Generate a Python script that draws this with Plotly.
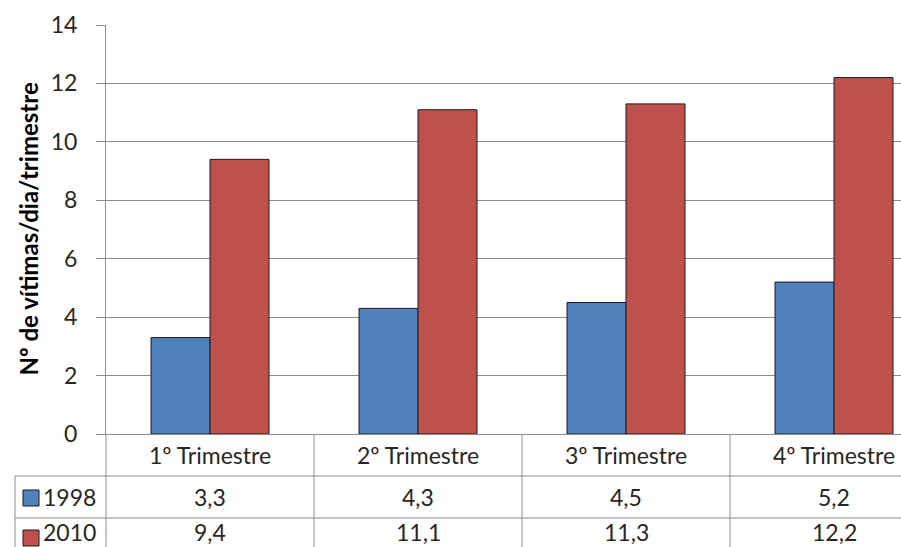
import plotly.graph_objects as go

categories = ["1º Trimestre", "2º Trimestre", "3º Trimestre", "4º Trimestre"]
series_names = ["1998", "2010"]
values_1998 = [3.3, 4.3, 4.5, 5.2]
values_2010 = [9.4, 11.1, 11.3, 12.2]
y_ticks = [0, 2, 4, 6, 8, 10, 12, 14]
colors = ["#4F81BD", "#C0504D"]
y_title = "Nº de vítimas/dia/trimestre"

W, H = 901, 547
ML, MR, MT, MB = 106, 0, 25, 113
plot_w = W - ML - MR
plot_h = H - MT - MB
x_range = [-0.5, -0.5 + plot_w / 208.0]
FONT = "Lato, 'Open Sans', sans-serif"
TXT = "#262626"
GRID = "#8c8c8c"
FS = 23


def px_y(py):
    return (H - MB - py) / plot_h


def px_x(px):
    return (px - ML) / plot_w


def xdata_to_paper(x):
    return (x - x_range[0]) / (x_range[1] - x_range[0])


def fmt(v):
    return f"{v:.1f}".replace(".", ",")


xs = list(range(len(categories)))
fig = go.Figure()
for name, vals, col in zip(series_names, [values_1998, values_2010], colors):
    fig.add_trace(go.Bar(x=xs, y=vals, name=name, hoverinfo="skip",
                         marker=dict(color=col, line=dict(color="#1a1a1a", width=1))))

shapes = []
annotations = []
line_style = dict(color=GRID, width=1)

# table horizontal lines
for py in [476, 518]:
    shapes.append(dict(type="line", xref="paper", yref="paper", x0=px_x(15), x1=1.0, y0=px_y(py), y1=px_y(py), line=line_style))
# left border of the legend column
shapes.append(dict(type="line", xref="paper", yref="paper", x0=px_x(15), x1=px_x(15), y0=px_y(476), y1=px_y(560), line=line_style))
# vertical category separators
for b in [-0.5, 0.5, 1.5, 2.5]:
    xp = xdata_to_paper(b)
    shapes.append(dict(type="line", xref="paper", yref="paper", x0=xp, x1=xp, y0=0, y1=px_y(560), line=line_style))

# header labels
for i, c in enumerate(categories):
    annotations.append(dict(text=c, xref="paper", yref="paper", x=xdata_to_paper(i), y=px_y(455), showarrow=False, xanchor="center", yanchor="middle", font=dict(size=FS, color=TXT, family=FONT)))

# table rows
row_centers = [497, 532]
box_centers = [498, 538]
for (name, vals, col, pyc, pyb) in zip(series_names, [values_1998, values_2010], colors, row_centers, box_centers):
    shapes.append(dict(type="rect", xref="paper", yref="paper", x0=px_x(23), x1=px_x(39), y0=px_y(pyb + 8), y1=px_y(pyb - 8), fillcolor=col, line=dict(color="#1a1a1a", width=1)))
    annotations.append(dict(text=name, xref="paper", yref="paper", x=px_x(41), y=px_y(pyc), showarrow=False, xanchor="left", yanchor="middle", font=dict(size=FS, color=TXT, family=FONT)))
    for i, v in enumerate(vals):
        annotations.append(dict(text=fmt(v), xref="paper", yref="paper", x=xdata_to_paper(i), y=px_y(pyc), showarrow=False, xanchor="center", yanchor="middle", font=dict(size=FS, color=TXT, family=FONT)))

# y-axis title
annotations.append(dict(text="<b>" + y_title + "</b>", xref="paper", yref="paper", x=px_x(28), y=0.5, textangle=-90, showarrow=False, xanchor="center", yanchor="middle", font=dict(size=24, color="#000000", family=FONT)))

fig.update_layout(
    width=W, height=H,
    margin=dict(l=ML, r=MR, t=MT, b=MB, pad=0),
    paper_bgcolor="white", plot_bgcolor="white",
    barmode="group", bargap=0.433, bargroupgap=0,
    showlegend=False, hovermode=False,
    shapes=shapes, annotations=annotations,
    font=dict(family=FONT, color=TXT),
)
fig.update_xaxes(range=x_range, showticklabels=False, showgrid=False, zeroline=False, showline=True, linecolor=GRID, linewidth=1, ticks="")
fig.update_yaxes(range=[0, 14], tickvals=y_ticks, showgrid=True, gridcolor=GRID, gridwidth=1, zeroline=False,
                 showline=True, linecolor=GRID, linewidth=1, ticks="outside", ticklen=9, tickcolor=GRID,
                 tickfont=dict(size=FS, color=TXT, family=FONT), ticklabelstandoff=14)

fig.write_html("out.html", config={"displayModeBar": False},
               post_script="document.body.style.margin='0';document.body.style.overflow='hidden';")
